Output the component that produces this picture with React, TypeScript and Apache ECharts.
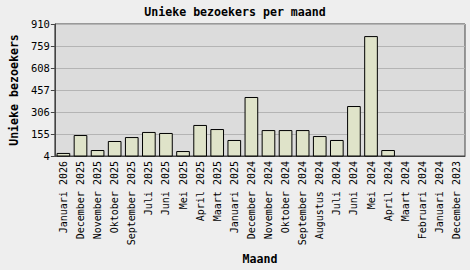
import React, { useEffect, useRef } from "react";
import * as echarts from "echarts";

const categories = [
  "Januari 2026", "December 2025", "November 2025", "Oktober 2025", "September 2025",
  "Juli 2025", "Juni 2025", "Mei 2025", "April 2025", "Maart 2025", "Januari 2025",
  "December 2024", "November 2024", "Oktober 2024", "September 2024", "Augustus 2024",
  "Juli 2024", "Juni 2024", "Mei 2024", "April 2024", "Maart 2024", "Februari 2024",
  "Januari 2024", "December 2023",
];
const visitors = [
  25, 148, 45, 107, 134, 169, 162, 38, 217, 189, 114,
  409, 182, 182, 182, 141, 114, 347, 827, 45, 4, 4, 4, 4,
];
const yMin = 4;
const yMax = 910;
const yStep = 151;

const FONT = "DejaVu Sans Mono";

export default function App() {
  const ref = useRef<HTMLDivElement>(null);
  useEffect(() => {
    const chart = echarts.init(ref.current!, null, { renderer: "svg" });
    chart.setOption({
      animation: false,
      backgroundColor: "#eeeeee",
      title: {
        text: "Unieke bezoekers per maand",
        left: "center",
        top: 1,
        textStyle: { fontFamily: FONT, fontSize: 11.6, fontWeight: "bold", color: "#000" },
      },
      grid: {
        left: 47, right: 5, top: 24, bottom: 114,
        show: true, backgroundColor: "#dcdcdc", borderColor: "#444", borderWidth: 1,
      },
      xAxis: {
        type: "category",
        data: categories,
        name: "Maand",
        nameLocation: "middle",
        nameGap: 97,
        nameTextStyle: { fontFamily: FONT, fontSize: 11.6, fontWeight: "bold", color: "#000" },
        axisLine: { lineStyle: { color: "#444", width: 1 } },
        axisTick: { alignWithLabel: true, length: 3, lineStyle: { color: "#444" } },
        axisLabel: {
          rotate: 90, interval: 0, margin: 5,
          fontFamily: FONT, fontSize: 10, color: "#000",
        },
      },
      yAxis: {
        type: "value",
        min: yMin, max: yMax, interval: yStep,
        name: "Unieke bezoekers",
        nameLocation: "middle",
        nameGap: 33,
        nameTextStyle: { fontFamily: FONT, fontSize: 11.6, fontWeight: "bold", color: "#000" },
        axisLine: { show: true, lineStyle: { color: "#444", width: 1 } },
        axisTick: { show: true, length: 4, lineStyle: { color: "#444" } },
        axisLabel: { margin: 5, fontFamily: FONT, fontSize: 10.5, color: "#000" },
        splitLine: { lineStyle: { color: "#b4b4b4", width: 1 } },
      },
      series: [
        {
          type: "bar",
          data: visitors,
          barCategoryGap: "20%",
          itemStyle: { color: "#dfe3c9", borderColor: "#000", borderWidth: 1 },
        },
      ],
    });
    return () => chart.dispose();
  }, []);
  return (
    <div
      ref={ref}
      style={{ position: "absolute", left: 0, top: 0, width: 470, height: 270 }}
    />
  );
}
